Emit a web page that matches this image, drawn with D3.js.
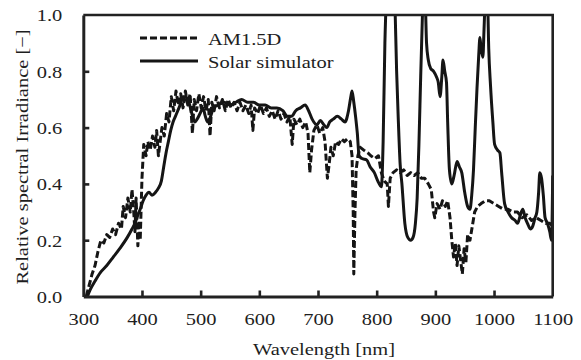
<!DOCTYPE html>
<html>
<head>
<meta charset="utf-8">
<script src="https://cdn.jsdelivr.net/npm/d3@7"></script>
<style>
  body { margin: 0; background: #fff; }
  text { font-family: "Liberation Serif", "Times New Roman", serif; fill: #1e1e1e; }
</style>
</head>
<body>
<script>
// Wavelength [nm] / relative irradiance
const am15dWl = [305, 310, 315, 320, 325, 330, 335, 340, 345, 350, 355, 360, 365, 368, 372, 376, 380, 383, 386, 388,
  390, 393, 395, 397, 400, 403, 407, 410, 414, 418, 422, 425, 428, 431, 434, 438, 442, 446, 450, 454,
  458, 462, 466, 470, 474, 478, 482, 486, 489, 493, 497, 501, 505, 509, 513, 516, 519, 523, 527, 532,
  537, 542, 547, 552, 557, 562, 567, 572, 577, 582, 586, 589, 592, 597, 602, 607, 612, 617, 622, 627,
  632, 637, 642, 647, 652, 656, 659, 664, 669, 674, 679, 683, 686, 689, 693, 698, 703, 708, 712, 716,
  719, 722, 726, 730, 735, 740, 745, 750, 755, 758, 760, 761, 763, 765, 768, 772, 778, 785, 790, 797,
  803, 808, 813, 818, 820, 823, 828, 834, 840, 846, 852, 858, 864, 870, 876, 882, 888, 893, 897, 899,
  903, 908, 912, 917, 921, 925, 928, 931, 934, 937, 940, 943, 946, 949, 952, 955, 959, 963, 967, 972,
  978, 985, 992, 1000, 1008, 1016, 1024, 1032, 1040, 1048, 1056, 1064, 1072, 1080, 1088, 1095, 1100];
const am15dVal = [0.00, 0.04, 0.08, 0.11, 0.16, 0.20, 0.19, 0.22, 0.21, 0.24, 0.22, 0.26, 0.24, 0.32, 0.28, 0.35, 0.30, 0.38, 0.30, 0.23,
  0.35, 0.18, 0.27, 0.20, 0.42, 0.54, 0.50, 0.55, 0.52, 0.57, 0.53, 0.59, 0.50, 0.55, 0.60, 0.57, 0.65, 0.62, 0.71, 0.66,
  0.73, 0.68, 0.72, 0.67, 0.73, 0.68, 0.72, 0.58, 0.70, 0.66, 0.72, 0.67, 0.71, 0.66, 0.70, 0.57, 0.69, 0.66, 0.71, 0.67,
  0.70, 0.66, 0.70, 0.67, 0.69, 0.66, 0.69, 0.66, 0.68, 0.65, 0.68, 0.59, 0.67, 0.65, 0.68, 0.65, 0.67, 0.64, 0.66, 0.63,
  0.66, 0.63, 0.65, 0.62, 0.64, 0.54, 0.63, 0.61, 0.63, 0.60, 0.62, 0.58, 0.44, 0.52, 0.59, 0.61, 0.58, 0.60, 0.55, 0.42,
  0.47, 0.53, 0.50, 0.55, 0.54, 0.56, 0.55, 0.56, 0.55, 0.50, 0.30, 0.08, 0.30, 0.45, 0.50, 0.53, 0.52, 0.51, 0.50, 0.49,
  0.50, 0.44, 0.41, 0.40, 0.32, 0.42, 0.44, 0.45, 0.44, 0.45, 0.43, 0.44, 0.43, 0.44, 0.42, 0.42, 0.40, 0.38, 0.30, 0.28,
  0.33, 0.31, 0.34, 0.32, 0.34, 0.28, 0.20, 0.14, 0.19, 0.11, 0.18, 0.13, 0.08, 0.17, 0.12, 0.22, 0.20, 0.25, 0.30, 0.32,
  0.33, 0.34, 0.34, 0.33, 0.32, 0.31, 0.31, 0.30, 0.30, 0.28, 0.29, 0.27, 0.28, 0.27, 0.26, 0.26, 0.25];

const simWl = [307, 312, 320, 329, 340, 351, 362, 375, 383, 388, 393, 397, 402, 407, 412, 417, 423, 428, 433, 437,
  441, 445, 449, 453, 457, 461, 465, 470, 475, 480, 485, 490, 494, 499, 504, 508, 512, 517, 522, 530,
  540, 550, 560, 570, 580, 590, 600, 610, 620, 630, 640, 648, 655, 662, 670, 678, 684, 690, 698, 704,
  710, 715, 720, 726, 733, 740, 746, 752, 756, 758, 761, 764, 767, 770, 775, 783, 789, 796, 802, 808,
  811, 814, 817, 820, 826, 831, 834, 837, 840, 843, 848, 853, 858, 862, 866, 869, 872, 875, 878, 881,
  883, 885, 888, 892, 897, 902, 905, 908, 911, 913, 916, 919, 921, 924, 928, 932, 937, 941, 945, 950,
  955, 959, 962, 965, 968, 971, 974, 976, 978, 981, 983, 986, 989, 991, 994, 998, 1001, 1006, 1010, 1013,
  1018, 1024, 1030, 1036, 1040, 1045, 1049, 1053, 1057, 1062, 1066, 1070, 1073, 1076, 1078, 1081, 1084, 1087, 1091, 1095,
  1098, 1100];
const simVal = [0.00, 0.025, 0.055, 0.085, 0.11, 0.14, 0.17, 0.21, 0.24, 0.26, 0.29, 0.31, 0.34, 0.36, 0.37, 0.36, 0.37, 0.385, 0.41, 0.46,
  0.51, 0.55, 0.59, 0.62, 0.64, 0.66, 0.68, 0.71, 0.71, 0.69, 0.65, 0.62, 0.63, 0.65, 0.67, 0.64, 0.62, 0.64, 0.67, 0.68,
  0.69, 0.68, 0.69, 0.70, 0.69, 0.69, 0.68, 0.68, 0.67, 0.67, 0.66, 0.64, 0.64, 0.66, 0.67, 0.68, 0.66, 0.63, 0.61, 0.625,
  0.61, 0.60, 0.62, 0.63, 0.64, 0.63, 0.62, 0.66, 0.71, 0.73, 0.69, 0.64, 0.58, 0.50, 0.49, 0.485, 0.46, 0.44, 0.41, 0.39,
  0.55, 0.90, 1.10, 1.30, 1.30, 1.05, 0.80, 0.62, 0.47, 0.40, 0.26, 0.21, 0.20, 0.21, 0.26, 0.35, 0.54, 0.78, 1.00, 1.20,
  1.05, 0.90, 0.84, 0.81, 0.80, 0.78, 0.76, 0.71, 0.78, 0.84, 0.80, 0.76, 0.62, 0.45, 0.40, 0.43, 0.48, 0.46, 0.44, 0.37,
  0.32, 0.31, 0.36, 0.45, 0.60, 0.74, 0.86, 0.92, 0.88, 0.85, 0.95, 1.10, 1.05, 0.88, 0.75, 0.62, 0.54, 0.52, 0.51, 0.44,
  0.33, 0.30, 0.28, 0.27, 0.26, 0.29, 0.31, 0.28, 0.26, 0.24, 0.25, 0.28, 0.30, 0.37, 0.44, 0.42, 0.36, 0.28, 0.26, 0.23,
  0.20, 0.43];

const xTicks = [300, 400, 500, 600, 700, 800, 900, 1000, 1100];
const yTicks = [0, 0.2, 0.4, 0.6, 0.8, 1.0];
const seriesNames = ['AM1.5D', 'Solar simulator'];

const W = 581, H = 360;
const plotL = 83.3, plotR = 552.7, plotT = 15, plotB = 296.5;
const sx = 1.17; // the figure's serif font runs wide

const svg = d3.select('body').append('svg')
  .attr('width', W).attr('height', H);

const x = d3.scaleLinear().domain([300, 1100]).range([plotL, plotR]);
const y = d3.scaleLinear().domain([0, 1]).range([plotB, plotT]);

svg.append('clipPath').attr('id', 'plot')
  .append('rect')
  .attr('x', plotL).attr('y', plotT)
  .attr('width', plotR - plotL).attr('height', plotB - plotT);

const am15d = am15dWl.map((w, i) => ({ w, v: am15dVal[i] }));
const sim = simWl.map((w, i) => ({ w, v: simVal[i] }));

const lineGen = d3.line().x(d => x(d.w)).y(d => y(d.v));

const curves = svg.append('g').attr('clip-path', 'url(#plot)');

curves.append('path')
  .datum(sim)
  .attr('d', lineGen.curve(d3.curveMonotoneX))
  .attr('fill', 'none')
  .attr('stroke', '#151515')
  .attr('stroke-width', 3)
  .attr('stroke-linejoin', 'round');

curves.append('path')
  .datum(am15d)
  .attr('d', lineGen.curve(d3.curveLinear))
  .attr('fill', 'none')
  .attr('stroke', '#151515')
  .attr('stroke-width', 3)
  .attr('stroke-dasharray', '7,3')
  .attr('stroke-linejoin', 'round');

// frame (top and right sides)
svg.append('path')
  .attr('d', `M${plotL},${plotT}H${plotR}V${plotB}`)
  .attr('fill', 'none')
  .attr('stroke', '#222')
  .attr('stroke-width', 2.6);

// axes, ticks pointing inwards
const xAxis = svg.append('g')
  .attr('transform', `translate(0,${plotB})`)
  .call(d3.axisBottom(x).tickValues(xTicks).tickSizeInner(-6).tickSizeOuter(0).tickPadding(0).tickFormat(d3.format('d')));

const yAxis = svg.append('g')
  .attr('transform', `translate(${plotL},0)`)
  .call(d3.axisLeft(y).tickValues(yTicks).tickSizeInner(-6).tickSizeOuter(0).tickFormat(d3.format('.1f')));

[xAxis, yAxis].forEach(a => {
  a.select('.domain').attr('stroke', '#222').attr('stroke-width', 3);
  a.selectAll('.tick line').attr('stroke', '#222').attr('stroke-width', 2.6);
  a.selectAll('.tick text').attr('font-size', 17.5).attr('fill', '#1e1e1e')
    .style('font-family', '"Liberation Serif", "Times New Roman", serif');
});
xAxis.selectAll('.tick line').filter(d => d === 300 || d === 1100).remove();
yAxis.selectAll('.tick line').filter(d => d === 0 || d === 1).remove();

xAxis.selectAll('.tick text')
  .attr('y', 29).attr('dy', 0)
  .attr('transform', `scale(${sx},1)`);
yAxis.selectAll('.tick text')
  .attr('x', -21 / sx).attr('dy', '0.34em')
  .attr('transform', `scale(${sx},1)`);

// axis titles
svg.append('text')
  .attr('transform', `translate(324,355) scale(${sx},1)`)
  .attr('text-anchor', 'middle')
  .attr('font-size', 17.5)
  .text('Wavelength [nm]');

svg.append('text')
  .attr('transform', `translate(28,157) rotate(-90) scale(${sx},1)`)
  .attr('text-anchor', 'middle')
  .attr('font-size', 17.5)
  .text('Relative spectral Irradiance [\u2212]');

// legend
const legend = svg.append('g');
seriesNames.forEach((name, i) => {
  const ly = 38 + i * 23;
  legend.append('line')
    .attr('x1', 140).attr('x2', 198)
    .attr('y1', ly).attr('y2', ly)
    .attr('stroke', '#151515')
    .attr('stroke-width', 3)
    .attr('stroke-dasharray', i === 0 ? '7,3' : null);
  legend.append('text')
    .attr('transform', `translate(208,${ly + 7}) scale(${sx},1)`)
    .attr('font-size', 17.5)
    .text(name);
});
</script>
</body>
</html>
